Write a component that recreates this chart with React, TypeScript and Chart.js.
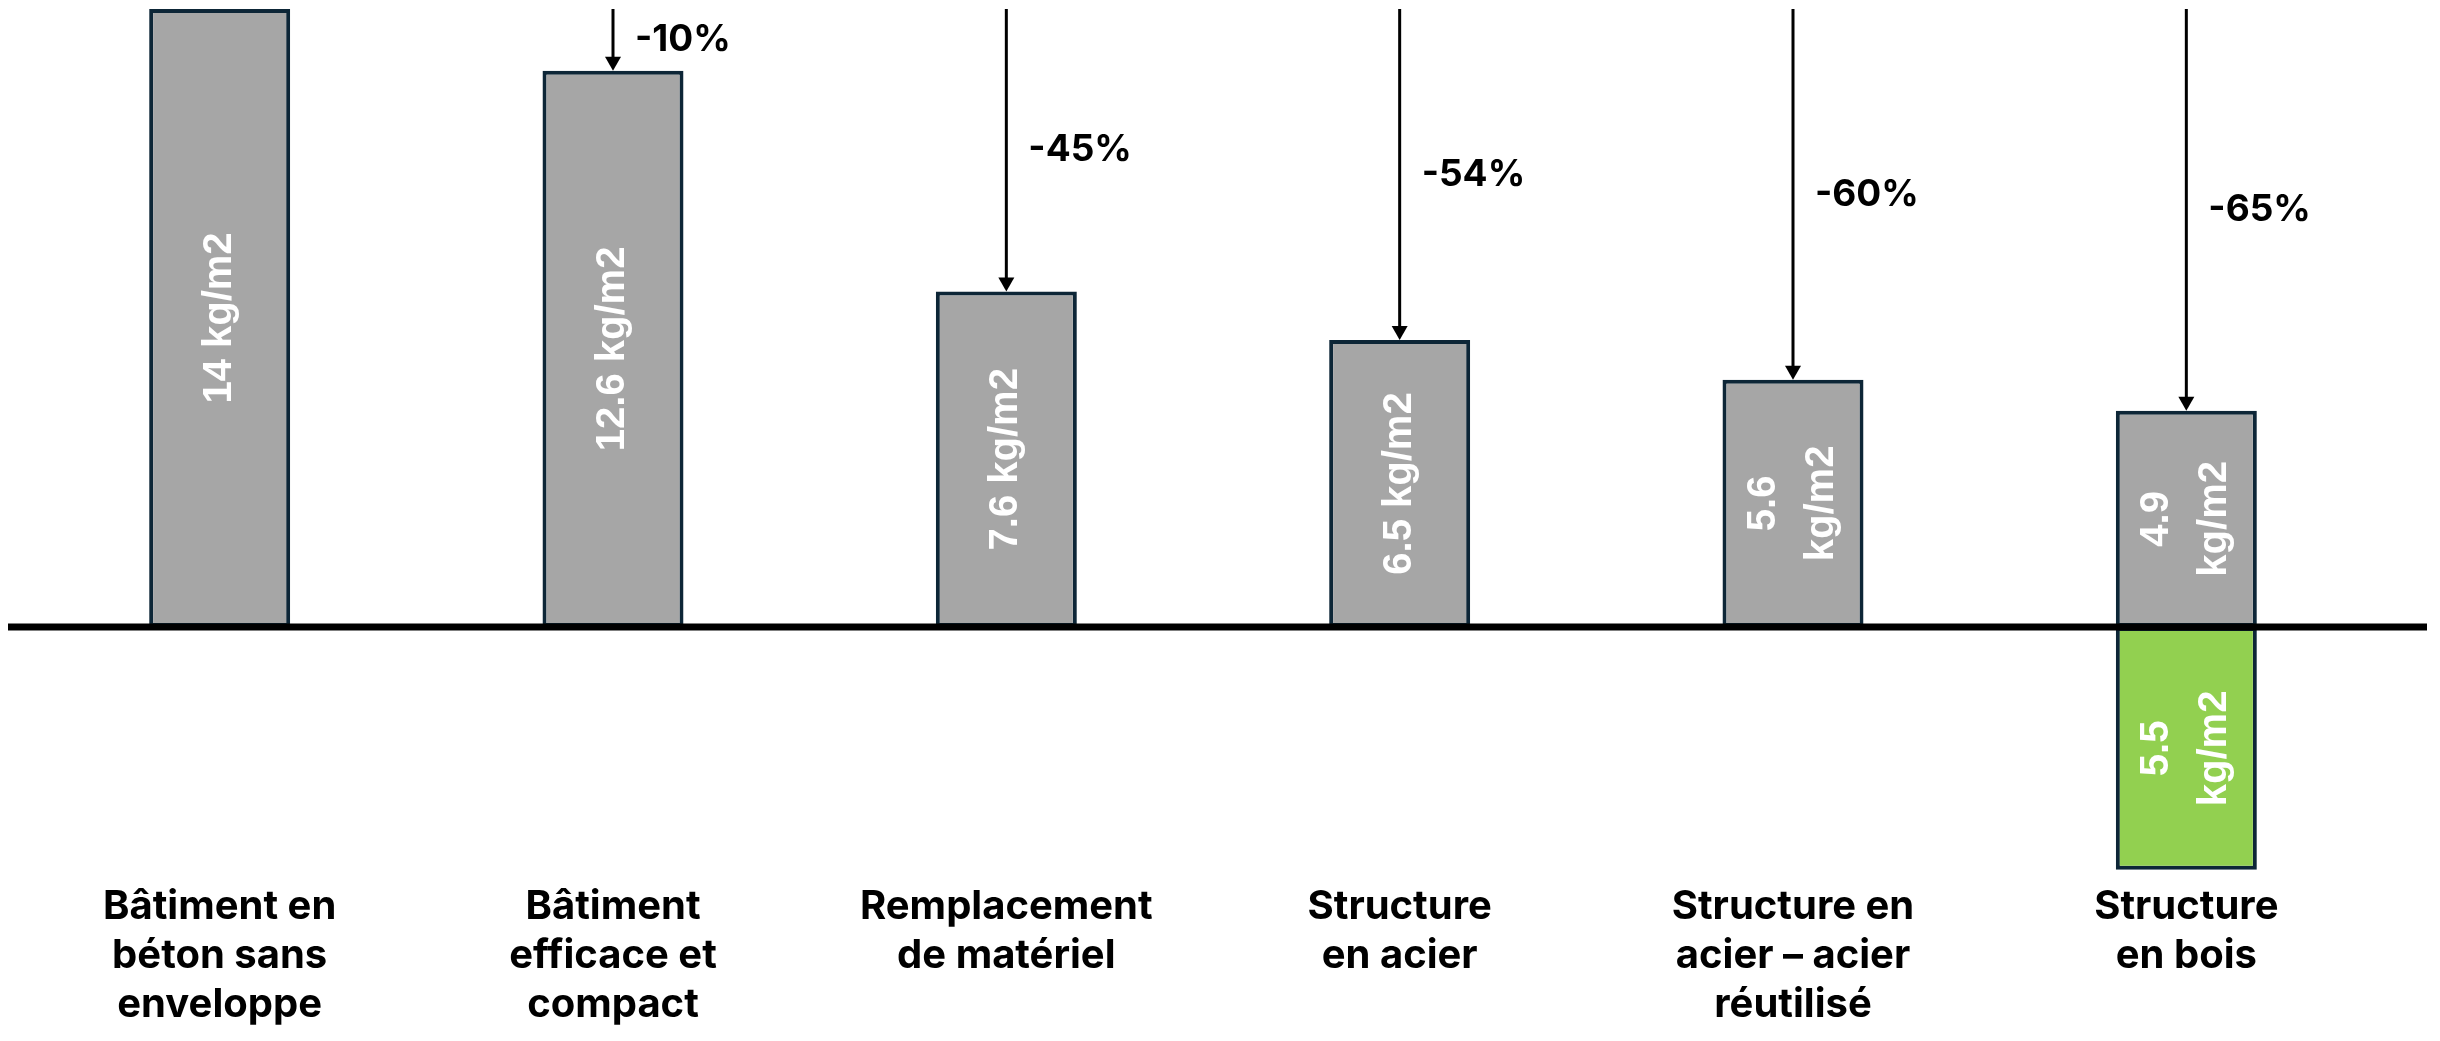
import { useEffect, useRef } from "react";
import { Chart, registerables } from "chart.js";

Chart.register(...registerables);

// ---- Data ----
const categories: string[][] = [
  ["Bâtiment en", "béton sans", "enveloppe"],
  ["Bâtiment", "efficace et", "compact"],
  ["Remplacement", "de matériel"],
  ["Structure", "en acier"],
  ["Structure en", "acier – acier", "réutilisé"],
  ["Structure", "en bois"],
];
const emissions: number[] = [14, 12.6, 7.6, 6.5, 5.6, 4.9];
const storage: (number | null)[] = [null, null, null, null, null, -5.5];
const reductions: string[] = ["", "-10%", "-45%", "-54%", "-60%", "-65%"];
const emissionLabels: string[][] = [
  ["14 kg/m2"],
  ["12.6 kg/m2"],
  ["7.6 kg/m2"],
  ["6.5 kg/m2"],
  ["5.6", "kg/m2"],
  ["4.9", "kg/m2"],
];
const storageLabels: (string[] | null)[] = [null, null, null, null, null, ["5.5", "kg/m2"]];

const GREY = "#a6a6a6";
const GREEN = "#92d050";
const BORDER = "#0d2637";

const annotationPlugin = {
  id: "annotations",
  afterDatasetsDraw(chart: any) {
    const ctx: CanvasRenderingContext2D = chart.ctx;
    const xs = chart.scales.x;
    const ys = chart.scales.y;

    // zero line across the whole canvas
    const y0 = ys.getPixelForValue(0);
    ctx.save();
    ctx.strokeStyle = "#000";
    ctx.lineWidth = 7;
    ctx.beginPath();
    ctx.moveTo(0, y0);
    ctx.lineTo(chart.width - 5, y0);
    ctx.stroke();
    ctx.restore();

    // in-bar rotated labels
    const drawBarLabels = (dsIndex: number, labels: (string[] | null)[]) => {
      const meta = chart.getDatasetMeta(dsIndex);
      meta.data.forEach((bar: any, i: number) => {
        const lines = labels[i];
        if (!lines) return;
        const p = bar.getProps(["x", "y", "base"], true);
        if (!isFinite(p.y) || !isFinite(p.base)) return;
        const cy = (p.y + p.base) / 2;
        ctx.save();
        ctx.translate(p.x, cy);
        ctx.rotate(-Math.PI / 2);
        ctx.fillStyle = "#ffffff";
        ctx.font = "bold 40px 'Liberation Sans', Arial, sans-serif";
        ctx.textAlign = "center";
        ctx.textBaseline = "middle";
        const lh = 58;
        lines.forEach((t, k) => {
          ctx.fillText(t, 0, (k - (lines.length - 1) / 2) * lh);
        });
        ctx.restore();
      });
    };
    drawBarLabels(0, emissionLabels);
    drawBarLabels(1, storageLabels);

    // arrows from reference level to each bar top, with reduction labels
    const yRef = ys.getPixelForValue(emissions[0]);
    ctx.save();
    ctx.strokeStyle = "#000";
    ctx.fillStyle = "#000";
    ctx.lineWidth = 3;
    ctx.font = "bold 37px Inter, 'Liberation Sans', Arial, sans-serif";
    ctx.textAlign = "left";
    ctx.textBaseline = "middle";
    for (let i = 1; i < emissions.length; i++) {
      const ax = xs.getPixelForValue(i);
      const yb = ys.getPixelForValue(emissions[i]);
      const headH = 14;
      const headW = 8;
      ctx.beginPath();
      ctx.moveTo(ax, yRef);
      ctx.lineTo(ax, yb - headH + 1);
      ctx.stroke();
      ctx.beginPath();
      ctx.moveTo(ax - headW, yb - headH);
      ctx.lineTo(ax + headW, yb - headH);
      ctx.lineTo(ax, yb);
      ctx.closePath();
      ctx.fill();
      ctx.fillText(reductions[i], ax + 22, (yRef + yb) / 2);
    }
    ctx.restore();
  },
};

export default function App() {
  const canvasRef = useRef<HTMLCanvasElement | null>(null);

  useEffect(() => {
    if (!canvasRef.current) return;
    const chart = new Chart(canvasRef.current, {
      type: "bar",
      data: {
        labels: categories,
        datasets: [
          {
            data: emissions,
            backgroundColor: GREY,
            borderColor: BORDER,
            borderWidth: 4,
            borderSkipped: false,
            categoryPercentage: 1,
            barPercentage: 0.3585,
          },
          {
            data: storage,
            backgroundColor: GREEN,
            borderColor: BORDER,
            borderWidth: 4,
            borderSkipped: false,
            categoryPercentage: 1,
            barPercentage: 0.3585,
          },
        ],
      },
      options: {
        responsive: false,
        devicePixelRatio: 1,
        animation: false,
        layout: { padding: { top: 1, left: 15, right: 49, bottom: 0 } },
        plugins: {
          legend: { display: false },
          tooltip: { enabled: false },
        },
        scales: {
          x: {
            stacked: true,
            grid: { display: false, drawTicks: false },
            border: { display: false },
            ticks: {
              color: "#000",
              autoSkip: false,
              maxRotation: 0,
              padding: 4,
              font: {
                family: "Inter, 'Liberation Sans', Arial, sans-serif",
                size: 40,
                weight: "bold",
                lineHeight: 1.22,
              },
            },
          },
          y: {
            stacked: true,
            display: false,
            min: -5.7,
            max: 14,
          },
        },
      },
      plugins: [annotationPlugin],
    });
    return () => chart.destroy();
  }, []);

  return (
    <div style={{ width: 2424, height: 1025, background: "#fff" }}>
      <canvas ref={canvasRef} width={2424} height={1025} style={{ display: "block" }} />
    </div>
  );
}
